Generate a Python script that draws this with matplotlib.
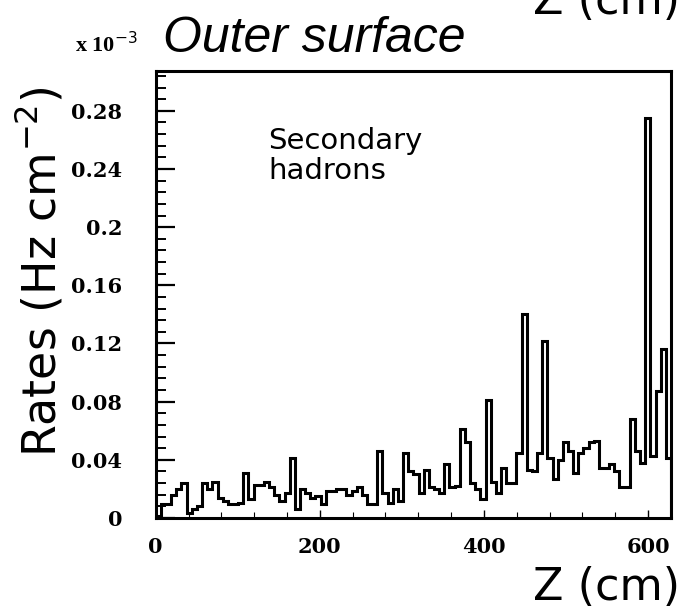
import numpy as np
import matplotlib
matplotlib.use("Agg")
import matplotlib.pyplot as plt
from matplotlib.ticker import MultipleLocator, FixedLocator

# histogram: 100 bins in Z (cm), rates in units of 1e-3 Hz/cm^2
z_min = 0
z_max = 628
n_bins = 100
rates = [
    0.0014, 0.0094, 0.0094, 0.0160, 0.0197, 0.0240, 0.0037, 0.0060, 0.0082, 0.0240,
    0.0200, 0.0250, 0.0140, 0.0117, 0.0094, 0.0094, 0.0105, 0.0310, 0.0128, 0.0230,
    0.0230, 0.0250, 0.0210, 0.0160, 0.0117, 0.0174, 0.0410, 0.0060, 0.0197, 0.0174,
    0.0140, 0.0150, 0.0094, 0.0185, 0.0185, 0.0197, 0.0197, 0.0160, 0.0185, 0.0210,
    0.0160, 0.0094, 0.0094, 0.0460, 0.0174, 0.0105, 0.0197, 0.0120, 0.0450, 0.0320,
    0.0300, 0.0174, 0.0330, 0.0210, 0.0197, 0.0174, 0.0370, 0.0210, 0.0220, 0.0610,
    0.0520, 0.0240, 0.0197, 0.0128, 0.0810, 0.0250, 0.0174, 0.0345, 0.0240, 0.0240,
    0.0450, 0.1400, 0.0330, 0.0320, 0.0450, 0.1215, 0.0410, 0.0265, 0.0400, 0.0520,
    0.0460, 0.0310, 0.0450, 0.0480, 0.0520, 0.0530, 0.0345, 0.0345, 0.0370, 0.0320,
    0.0210, 0.0210, 0.0680, 0.0460, 0.0380, 0.2750, 0.0425, 0.0870, 0.1160, 0.0410,
]
x_ticks = [0, 200, 400, 600]
y_ticks = [0, 0.04, 0.08, 0.12, 0.16, 0.2, 0.24, 0.28]
y_labels = ["0", "0.04", "0.08", "0.12", "0.16", "0.2", "0.24", "0.28"]

edges = np.linspace(z_min, z_max, n_bins + 1)

fig = plt.figure(figsize=(6.85, 6.12), dpi=100)
ax = fig.add_axes([0.2273, 0.1536, 0.7523, 0.7304])

ax.stairs(rates, edges, color="black", linewidth=2.2)

ax.set_xlim(z_min, z_max)
ax.set_ylim(0, 0.3074)

for s in ax.spines.values():
    s.set_linewidth(2.2)

ax.xaxis.set_major_locator(FixedLocator(x_ticks))
ax.xaxis.set_minor_locator(MultipleLocator(40))
ax.yaxis.set_major_locator(FixedLocator(y_ticks))
ax.yaxis.set_minor_locator(MultipleLocator(0.008))
ax.set_xticklabels([str(t) for t in x_ticks])
ax.set_yticklabels(y_labels)

ax.tick_params(axis="y", which="major", direction="in", length=14, width=1.6, pad=24)
ax.tick_params(axis="y", which="minor", direction="in", length=7, width=1.4)
ax.tick_params(axis="x", which="major", direction="in", length=6, width=1.0, pad=14)
ax.tick_params(axis="x", which="minor", direction="in", length=4, width=0.8)
for lab in ax.get_xticklabels() + ax.get_yticklabels():
    lab.set_fontfamily("DejaVu Serif")
    lab.set_fontweight("bold")
    lab.set_fontsize(15)

ax.text(0.218, 0.875, "Secondary\nhadrons", transform=ax.transAxes,
        fontsize=21, family="DejaVu Sans", va="top", ha="left", linespacing=1.1)

fig.text(40 / 685, 1 - 272 / 612, r"Rates (Hz cm$^{-2}$)", rotation=90,
         fontsize=33, family="DejaVu Sans", ha="center", va="center")
fig.text(680 / 685, 1 - 600 / 612, "Z (cm)", fontsize=32, family="DejaVu Sans",
         ha="right", va="baseline")
fig.text(680 / 685, 1 - 14 / 612, "Z (cm)", fontsize=32, family="DejaVu Sans",
         ha="right", va="baseline")
fig.text(163 / 685, 1 - 52 / 612, "Outer surface", fontsize=36, style="italic",
         family="Liberation Sans", ha="left", va="baseline")
fig.text(75 / 685, 1 - 52 / 612, r"x 10$^{-3}$", fontsize=16, fontweight="bold",
         family="Liberation Serif", ha="left", va="baseline")

fig.savefig("out.png", dpi=100)
